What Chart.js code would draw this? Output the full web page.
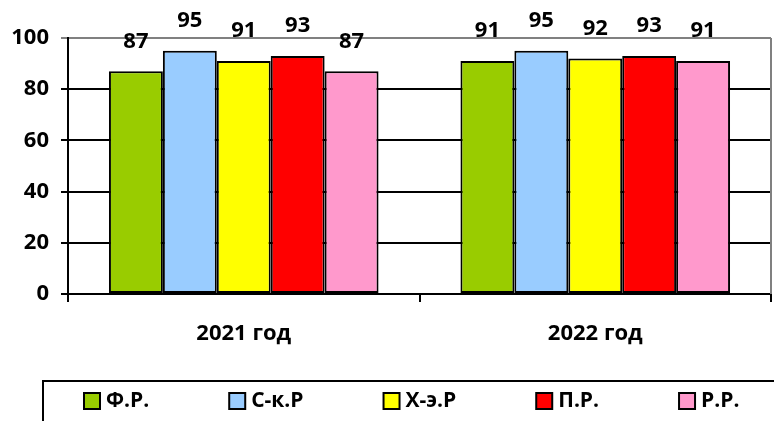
<!DOCTYPE html>
<html><head><meta charset="utf-8">
<script src="https://cdn.jsdelivr.net/npm/chart.js@4/dist/chart.umd.min.js"></script>
<style>html,body{margin:0;padding:0;background:#fff}#w{width:774px;height:421px}</style>
</head><body><div id="w"><canvas id="c"></canvas></div>
<script>
const categories = ['2021 год', '2022 год'];
const seriesNames = ['Ф.Р.', 'С-к.Р', 'Х-э.Р', 'П.Р.', 'Р.Р.'];
const seriesFR = [87, 91];
const seriesSKR = [95, 95];
const seriesHER = [91, 92];
const seriesPR = [93, 93];
const seriesRR = [87, 91];
const seriesColors = ['#99CC00', '#99CCFF', '#FFFF00', '#FF0000', '#FF99CC'];
const yTicks = [0, 20, 40, 60, 80, 100];

const FONT = '"Open Sans", "Noto Sans", sans-serif';
const allSeries = [seriesFR, seriesSKR, seriesHER, seriesPR, seriesRR];

const labelPlugin = {
  id: 'valueLabels',
  afterDatasetsDraw(chart) {
    const ctx = chart.ctx;
    ctx.save();
    ctx.font = 'bold 22px ' + FONT;
    ctx.fillStyle = '#000';
    ctx.textAlign = 'center';
    ctx.textBaseline = 'middle';
    chart.data.datasets.forEach((ds, i) => {
      const meta = chart.getDatasetMeta(i);
      meta.data.forEach((el, j) => {
        ctx.fillText(String(ds.data[j]), el.x, el.y - 30);
      });
    });
    ctx.restore();
  }
};

const framePlugin = {
  id: 'frame',
  afterDraw(chart) {
    const ctx = chart.ctx;
    const a = chart.chartArea;
    ctx.save();
    ctx.strokeStyle = '#808080';
    ctx.lineWidth = 2;
    ctx.beginPath();
    ctx.moveTo(a.right, a.top);
    ctx.lineTo(a.right, a.bottom);
    ctx.stroke();
    ctx.strokeStyle = '#000';
    ctx.lineWidth = 2;
    ctx.beginPath();
    ctx.moveTo(43, 430);
    ctx.lineTo(43, 381);
    ctx.lineTo(790, 381);
    ctx.stroke();
    ctx.font = 'bold 21px ' + FONT;
    ctx.textBaseline = 'middle';
    ctx.textAlign = 'left';
    let x = 84;
    const yc = 401;
    chart.data.datasets.forEach((ds) => {
      ctx.fillStyle = ds.backgroundColor;
      ctx.fillRect(x, yc - 8, 16, 16);
      ctx.strokeStyle = '#000';
      ctx.lineWidth = 2;
      ctx.strokeRect(x, yc - 8, 16, 16);
      ctx.fillStyle = '#000';
      ctx.fillText(ds.label, x + 22, yc);
      x += 22 + ctx.measureText(ds.label).width + 80;
    });
    ctx.restore();
  }
};

new Chart(document.getElementById('c'), {
  type: 'bar',
  data: {
    labels: categories,
    datasets: seriesNames.map((n, i) => ({
      label: n,
      data: allSeries[i],
      backgroundColor: seriesColors[i],
      borderColor: '#000',
      borderWidth: 2,
      borderSkipped: false,
      categoryPercentage: 0.767,
      barPercentage: 1.0
    }))
  },
  options: {
    responsive: true,
    maintainAspectRatio: false,
    animation: false,
    devicePixelRatio: 1,
    layout: { padding: { left: 0, right: 3, top: 38, bottom: 0 } },
    plugins: { legend: { display: false }, tooltip: { enabled: false } },
    scales: {
      x: {
        grid: { drawOnChartArea: false, color: '#000', lineWidth: 2, tickLength: 8, offset: true },
        border: { color: '#000', width: 2 },
        ticks: { color: '#000', font: { family: FONT, size: 22, weight: 'bold' }, padding: 19 },
        afterFit(s) { s.height = 127; }
      },
      y: {
        min: 0, max: 100,
        afterBuildTicks(s) { s.ticks = yTicks.map(v => ({ value: v })); },
        grid: {
          color: (c) => (c.tick && c.tick.value === 100) ? '#808080' : '#000',
          lineWidth: 2, tickLength: 7
        },
        border: { color: '#000', width: 2 },
        ticks: { color: '#000', font: { family: FONT, size: 22, weight: 'bold' }, padding: 12 },
        afterFit(s) { s.width = 68; }
      }
    }
  },
  plugins: [labelPlugin, framePlugin]
});
</script></body></html>
